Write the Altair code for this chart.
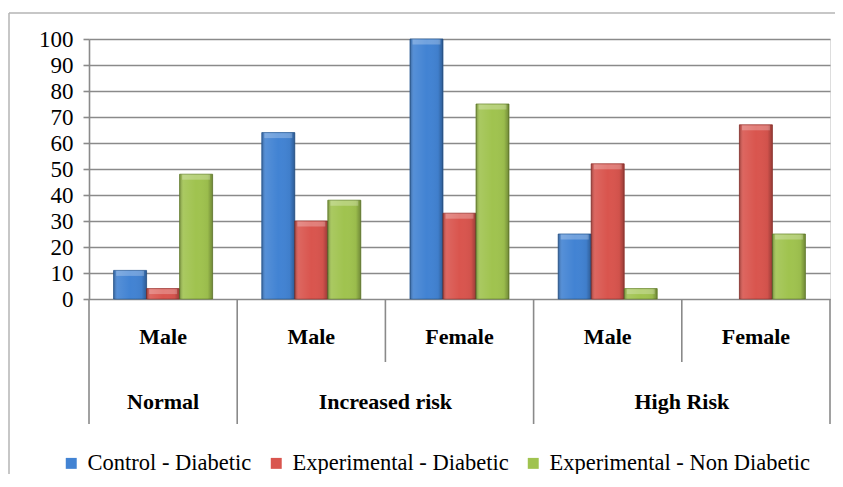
import altair as alt
import pandas as pd

# ---- data ----
groups = ["Normal", "Increased risk", "Increased risk", "High Risk", "High Risk"]
sexes = ["Male", "Male", "Female", "Male", "Female"]
series = ["Control - Diabetic", "Experimental - Diabetic", "Experimental - Non Diabetic"]
control_diabetic = [11, 64, 100, 25, 0]
experimental_diabetic = [4, 30, 33, 52, 67]
experimental_non_diabetic = [48, 38, 75, 4, 25]
y_ticks = [0, 10, 20, 30, 40, 50, 60, 70, 80, 90, 100]
colors = ["#4283d3", "#d9554e", "#a0c34f"]
edge_colors = ["#2f5f99", "#9c3a35", "#6f8a35"]

keys = [f"{g} / {s}" for g, s in zip(groups, sexes)]
values = [control_diabetic, experimental_diabetic, experimental_non_diabetic]

rows = []
for si, name in enumerate(series):
    for k, v in zip(keys, values[si]):
        rows.append({"key": k, "series": name, "value": v})
df = pd.DataFrame(rows)

cats = pd.DataFrame({"key": keys, "group": groups, "sex": sexes})

W, H = 741, 260
FONT = "Liberation Serif"
GRID = "#8a8a8a"

xscale = alt.Scale(domain=keys, paddingInner=0, paddingOuter=0)
xoff_scale = alt.Scale(domain=series, paddingInner=0, paddingOuter=0.745)
yscale = alt.Scale(domain=[0, 100], nice=False)

y_axis = alt.Axis(
    values=y_ticks,
    title=None,
    labelFont=FONT,
    labelFontSize=23,
    labelColor="black",
    labelPadding=10,
    labelOverlap=False,
    tickColor=GRID,
    tickSize=6,
    tickWidth=1.6,
    domainColor=GRID,
    domainWidth=1.6,
    gridColor=GRID,
    gridWidth=1.6,
)


def x_enc(band=0.5):
    return alt.X("key:N", scale=xscale, axis=None, sort=keys, bandPosition=band)


y_enc = alt.Y("value:Q", scale=yscale, axis=y_axis)
xoff_enc = alt.XOffset("series:N", scale=xoff_scale, sort=series)

base = alt.Chart(df).transform_filter("datum.value > 0")

bars = base.mark_bar(strokeWidth=0.8).encode(
    x=alt.X("key:N", scale=xscale, axis=None, sort=keys),
    xOffset=xoff_enc,
    y=y_enc,
    color=alt.Color(
        "series:N",
        scale=alt.Scale(domain=series, range=colors),
        sort=series,
        legend=alt.Legend(
            title=None,
            orient="none",
            direction="horizontal",
            legendX=-29,
            legendY=413,
            labelFont=FONT,
            labelFontSize=22.5,
            labelColor="black",
            labelLimit=0,
            symbolType="square",
            symbolSize=120,
            symbolStrokeWidth=0,
            labelOffset=5,
            columnPadding=13,
        ),
    ),
    stroke=alt.Stroke(
        "series:N",
        scale=alt.Scale(domain=series, range=edge_colors),
        sort=series,
        legend=None,
    ),
)

shade = base.mark_bar(
    fill=alt.Gradient(
        gradient="linear",
        x1=0, x2=1, y1=0, y2=0,
        stops=[
            alt.GradientStop(color="rgba(0,0,0,0.28)", offset=0),
            alt.GradientStop(color="rgba(255,255,255,0.10)", offset=0.12),
            alt.GradientStop(color="rgba(255,255,255,0.0)", offset=0.5),
            alt.GradientStop(color="rgba(0,0,0,0.04)", offset=0.85),
            alt.GradientStop(color="rgba(0,0,0,0.30)", offset=1),
        ],
    )
).encode(
    x=alt.X("key:N", scale=xscale, axis=None, sort=keys),
    xOffset=xoff_enc,
    y=y_enc,
)

cap = base.mark_tick(
    orient="horizontal", thickness=5, size=28, color="white", opacity=0.25, yOffset=3
).encode(
    x=alt.X("key:N", scale=xscale, axis=None, sort=keys),
    xOffset=xoff_enc,
    y=y_enc,
)

cat_base = alt.Chart(cats)

sex_labels = cat_base.mark_text(
    font=FONT, fontSize=22, fontWeight="bold", color="black", baseline="middle"
).encode(
    x=x_enc(0.5),
    y=alt.value(298),
    text="sex:N",
)

grp_single = pd.DataFrame({"key": [keys[0]], "group": [groups[0]]})
grp_double = pd.DataFrame({"key": [keys[1], keys[3]], "group": [groups[1], groups[3]]})

grp_labels_1 = alt.Chart(grp_single).mark_text(
    font=FONT, fontSize=22, fontWeight="bold", color="black", baseline="middle"
).encode(
    x=x_enc(0.5),
    y=alt.value(363),
    text="group:N",
)
grp_labels_2 = alt.Chart(grp_double).mark_text(
    font=FONT, fontSize=22, fontWeight="bold", color="black", baseline="middle"
).encode(
    x=x_enc(1),
    y=alt.value(363),
    text="group:N",
)

long_left = pd.DataFrame({"key": [keys[0], keys[1], keys[3]]})
long_right = pd.DataFrame({"key": [keys[4]]})
short_left = pd.DataFrame({"key": [keys[2], keys[4]]})

rule_style = dict(color=GRID, strokeWidth=1.6)
div_long = alt.Chart(long_left).mark_rule(**rule_style).encode(
    x=x_enc(0), y=alt.value(H), y2=alt.value(385),
)
div_long_r = alt.Chart(long_right).mark_rule(**rule_style).encode(
    x=x_enc(1), y=alt.value(H), y2=alt.value(385),
)
div_short = alt.Chart(short_left).mark_rule(**rule_style).encode(
    x=x_enc(0), y=alt.value(H), y2=alt.value(323),
)

one = pd.DataFrame({"f": [0]})
frame_top = alt.Chart(one).mark_rule(color="#b5b5b5", strokeWidth=1.5).encode(
    x=alt.value(-80), x2=alt.value(W + 200), y=alt.value(-26),
)
frame_left = alt.Chart(one).mark_rule(color="#b5b5b5", strokeWidth=1.5).encode(
    x=alt.value(-80), y=alt.value(-26), y2=alt.value(H + 400),
)

chart = alt.layer(
    frame_top, frame_left, bars, shade, cap, div_long, div_long_r, div_short,
    sex_labels, grp_labels_1, grp_labels_2,
).properties(
    width=W, height=H,
    autosize=alt.AutoSizeParams(type="none"),
    padding={"left": 81, "top": 31, "right": 5, "bottom": 175},
).configure_view(
    stroke=None
).configure_axis(
    labelFont=FONT, labelFontSize=23, labelColor="black"
).configure_legend(
    labelFont=FONT, labelFontSize=22.5, labelColor="black", labelLimit=0
).configure(background="white")

chart.save("out.html", embed_options={"renderer": "svg", "actions": False})
